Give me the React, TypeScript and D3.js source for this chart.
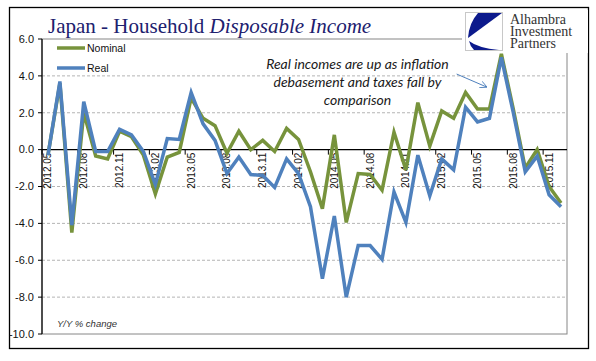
import React from 'react';
import { scaleBand, scaleLinear, line } from 'd3';

const months = [
  '2012.05', '2012.06', '2012.07', '2012.08', '2012.09', '2012.10', '2012.11', '2012.12',
  '2013.01', '2013.02', '2013.03', '2013.04', '2013.05', '2013.06', '2013.07', '2013.08',
  '2013.09', '2013.10', '2013.11', '2013.12', '2014.01', '2014.02', '2014.03', '2014.04',
  '2014.05', '2014.06', '2014.07', '2014.08', '2014.09', '2014.10', '2014.11', '2014.12',
  '2015.01', '2015.02', '2015.03', '2015.04', '2015.05', '2015.06', '2015.07', '2015.08',
  '2015.09', '2015.10', '2015.11', '2015.12',
];

const nominal = [
  -0.3, 3.6, -4.5, 2.0, -0.35, -0.5, 1.0, 0.7,
  -0.3, -2.4, -0.4, -0.15, 2.8, 1.7, 1.3, -0.2,
  1.0, 0.0, 0.5, -0.1, 1.15, 0.55, -1.2, -3.2,
  0.8, -3.95, -1.3, -1.35, -2.2, 0.95, -1.1, 2.55,
  0.2, 2.1, 1.7, 3.1, 2.2, 2.2, 5.2, 2.2,
  -1.0, 0.0, -2.0, -2.9,
];

const real = [
  -0.3, 3.7, -4.1, 2.6, -0.1, -0.1, 1.1, 0.8,
  -0.1, -1.9, 0.6, 0.55, 3.1, 1.4, 0.5, -1.3,
  -0.4, -1.35, -1.4, -2.05, -0.5, -1.3, -3.1, -7.0,
  -3.6, -8.0, -5.2, -5.2, -5.95, -2.3, -3.95, -0.3,
  -2.5, -0.5, -1.1, 2.3, 1.5, 1.7, 5.0, 2.0,
  -1.2, -0.35, -2.45, -3.1,
];

const yTicks = [6, 4, 2, 0, -2, -4, -6, -8, -10];
const labelMonths = months.filter((_, i) => i % 3 === 0);

const series = [
  { name: 'Nominal', values: nominal, color: '#77933c' },
  { name: 'Real', values: real, color: '#4f81bd' },
];

const note = ['Real incomes are up as inflation', 'debasement and taxes fall by', 'comparison'];
const logoLines = ['Alhambra', 'Investment', 'Partners'];

const W = 596, H = 361;
const plot = { left: 42, right: 567, top: 39, bottom: 334 };

export default function App() {
  const x = scaleBand<string>().domain(months).range([plot.left, plot.right]);
  const xc = (m: string) => (x(m) as number) + x.bandwidth() / 2;
  const y = scaleLinear().domain([-10, 6]).range([plot.bottom, plot.top]);

  const path = line<number>()
    .x((_, i) => xc(months[i]))
    .y(d => y(d));

  const sans = '"Liberation Sans", Arial, sans-serif';
  const serif = '"Liberation Serif", "Times New Roman", serif';

  // arrow from the note towards the 2015.06 readings
  const a0 = [xc('2015.03') + 3, y(4.1)];
  const a1 = [xc('2015.06') - 3, y(3.4)];

  return (
    <svg width={W} height={H} style={{ position: 'absolute', left: 0, top: 0, background: '#fff' }}>
      <defs>
        <marker id="arr" viewBox="0 0 10 10" refX="9" refY="5" markerWidth="7" markerHeight="7" orient="auto">
          <path d="M0,0 L10,5 L0,10" fill="none" stroke="#4f81bd" strokeWidth="1.2" />
        </marker>
      </defs>
      <rect x={9.5} y={7.5} width={579} height={341} fill="#fff" stroke="#000" strokeWidth={1.3} />

      <text x={48} y={33} fontFamily={serif} fontSize={21} fill="#20206e">
        Japan - Household <tspan fontStyle="italic">Disposable Income</tspan>
      </text>

      {/* gridlines */}
      {yTicks.filter(t => t !== 0 && t !== 6 && t !== -10).map(t => (
        <line key={t} x1={plot.left} x2={plot.right} y1={y(t)} y2={y(t)}
          stroke="#b4b4b4" strokeWidth={1} strokeDasharray="3,2" />
      ))}
      <rect x={plot.left} y={plot.top} width={plot.right - plot.left} height={plot.bottom - plot.top}
        fill="none" stroke="#868686" strokeWidth={1} />

      {/* y axis */}
      <line x1={plot.left} x2={plot.left} y1={plot.top} y2={plot.bottom} stroke="#000" strokeWidth={1.2} />
      {yTicks.map(t => (
        <g key={t}>
          <line x1={plot.left - 4} x2={plot.left} y1={y(t)} y2={y(t)} stroke="#000" />
          <text x={34} y={y(t)} dy="0.35em" textAnchor="end" fontFamily={sans} fontSize={11} fill="#111">
            {t.toFixed(1)}
          </text>
        </g>
      ))}

      {/* x axis at zero */}
      <line x1={plot.left} x2={plot.right} y1={y(0)} y2={y(0)} stroke="#000" strokeWidth={1.2} />
      {labelMonths.map(m => (
        <g key={m}>
          <line x1={x(m) as number} x2={x(m) as number} y1={y(0)} y2={y(0) + 5} stroke="#000" />
          <text transform={`translate(${xc(m)},${y(0) + 3}) rotate(-90)`} dy="0.35em" textAnchor="end"
            fontFamily={sans} fontSize={10} fill="#111">
            {m}
          </text>
        </g>
      ))}

      {series.map(s => (
        <path key={s.name} d={path(s.values) as string} fill="none" stroke={s.color}
          strokeWidth={3.5} strokeLinejoin="miter" strokeMiterlimit={4} />
      ))}

      {/* legend */}
      {series.map((s, i) => (
        <g key={s.name} transform={`translate(57,${48 + i * 20})`}>
          <line x1={0} x2={28} y1={0} y2={0} stroke={s.color} strokeWidth={3.5} />
          <text x={30} y={0} dy="0.35em" fontFamily={sans} fontSize={10.5} fill="#111">{s.name}</text>
        </g>
      ))}

      {note.map((t, i) => (
        <text key={i} x={357.5} y={69 + i * 18} textAnchor="middle" fontFamily={'Lato, sans-serif'}
          fontStyle="italic" fontSize={14} fill="#1a1a1a">{t}</text>
      ))}
      <line x1={a0[0]} y1={a0[1]} x2={a1[0]} y2={a1[1]} stroke="#4f81bd" strokeWidth={1} markerEnd="url(#arr)" />

      <text x={57} y={327} fontFamily={sans} fontStyle="italic" fontSize={9.5} fill="#333">Y/Y % change</text>

      {/* logo */}
      <rect x={462} y={10} width={126} height={43} fill="#fff" />
      <rect x={465.5} y={12.5} width={37} height={38} fill="#fff" stroke="#c8c8c8" />
      <path d="M478 13 L502 13 L468 38 Q469 23 478 13 Z" fill="#0c1a8c" />
      <path d="M469 41 Q478 48 499 50 L474 50 Q470 46 469 41 Z" fill="#0c1a8c" />
      <text fontFamily={serif} fontSize={14} fill="#333" x={510} y={24}>
        {logoLines.map((t, i) => (
          <tspan key={t} x={510} dy={i === 0 ? 0 : 12}>{t}</tspan>
        ))}
      </text>
    </svg>
  );
}
